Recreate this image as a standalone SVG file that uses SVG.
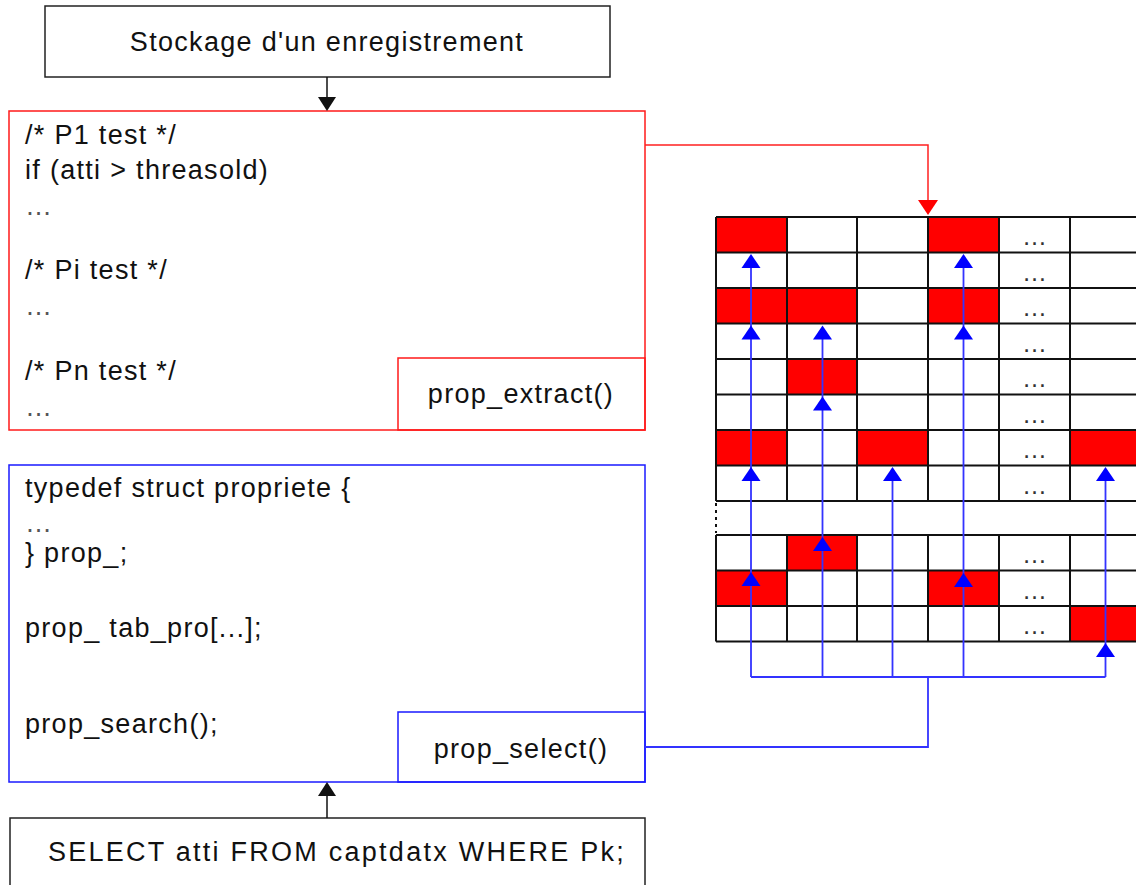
<svg xmlns="http://www.w3.org/2000/svg" xmlns:xlink="http://www.w3.org/1999/xlink" width="1136" height="885" viewBox="0 0 1136 885">
<style>
  .t { font-family: "Liberation Sans", Arial, sans-serif; font-size: 27px; fill: #111; letter-spacing: 1.3px; }
  .dots { font-family: "Liberation Sans", Arial, sans-serif; font-size: 27px; fill: #555; }
  .gdots { font-family: "Liberation Sans", Arial, sans-serif; font-size: 25px; fill: #333; text-anchor: middle; }
  .mid { text-anchor: middle; }
  .bk { fill: #fff; stroke: #222; stroke-width: 1.5; }
  .rd { fill: none; stroke: #ff1a1a; stroke-width: 1.5; }
  .bl { fill: none; stroke: #1a1aff; stroke-width: 1.5; }
  .cell { fill: #ff0000; }
  .grid { fill: none; stroke: #111; stroke-width: 2; }
  .bconn { fill: none; stroke: #3333ff; stroke-width: 1.8; }
  .rconn { fill: none; stroke: #ff2020; stroke-width: 1.5; }
  .kconn { fill: none; stroke: #111; stroke-width: 1.5; }
</style>
<defs>
  <path id="ahUp" d="M0,0 L9.5,14 L-9.5,14 Z" fill="#0000ff"/>
</defs>
<rect width="1136" height="885" fill="#fff"/>

<g id="node-stockage">
  <rect class="bk" x="45" y="6" width="565" height="71"/>
  <text class="t mid" x="327" y="51">Stockage d'un enregistrement</text>
</g>

<g id="node-extract">
  <rect class="rd" x="9" y="111" width="636" height="319" fill="#fff"/>
  <text class="t" x="25" y="144">/* P1 test */</text>
  <text class="t" x="25" y="179">if (atti &gt; threasold)</text>
  <text class="dots" x="25" y="215">…</text>
  <text class="t" x="25" y="279">/* Pi test */</text>
  <text class="dots" x="25" y="315">…</text>
  <text class="t" x="25" y="380">/* Pn test */</text>
  <text class="dots" x="25" y="416">…</text>
</g>

<g id="node-prop-extract">
  <rect class="rd" x="398" y="358" width="247" height="72"/>
  <text class="t mid" x="521" y="403">prop_extract()</text>
</g>

<g id="node-propriete">
  <rect class="bl" x="9" y="465" width="636" height="317"/>
  <text class="t" x="25" y="497">typedef struct propriete {</text>
  <text class="dots" x="25" y="532">…</text>
  <text class="t" x="25" y="562">} prop_;</text>
  <text class="t" x="25" y="637">prop_ tab_pro[...];</text>
  <text class="t" x="25" y="733">prop_search();</text>
</g>

<g id="node-prop-select">
  <rect class="bl" x="398" y="712" width="247" height="70"/>
  <text class="t mid" x="521" y="758">prop_select()</text>
</g>

<g id="node-select">
  <rect class="bk" x="10" y="818" width="635" height="90"/>
  <text class="t" x="48" y="861" textLength="577" lengthAdjust="spacing">SELECT atti FROM captdatx WHERE Pk;</text>
</g>

<g id="node-grid">
  <rect x="716" y="217" width="425" height="284" fill="#fff"/>
  <rect x="716" y="535" width="425" height="106.5" fill="#fff"/>
  <rect class="cell" x="716" y="217" width="71" height="35.5"/>
  <rect class="cell" x="928" y="217" width="71" height="35.5"/>
  <rect class="cell" x="716" y="288" width="71" height="35.5"/>
  <rect class="cell" x="787" y="288" width="70" height="35.5"/>
  <rect class="cell" x="928" y="288" width="71" height="35.5"/>
  <rect class="cell" x="787" y="359" width="70" height="35.5"/>
  <rect class="cell" x="716" y="430" width="71" height="35.5"/>
  <rect class="cell" x="857" y="430" width="71" height="35.5"/>
  <rect class="cell" x="1070" y="430" width="71" height="35.5"/>
  <rect class="cell" x="787" y="535" width="70" height="35.5"/>
  <rect class="cell" x="716" y="570.5" width="71" height="35.5"/>
  <rect class="cell" x="928" y="570.5" width="71" height="35.5"/>
  <rect class="cell" x="1070" y="606" width="71" height="35.5"/>
  <path class="grid" d="M716,217H1141 M716,252.5H1141 M716,288H1141 M716,323.5H1141 M716,359H1141 M716,394.5H1141 M716,430H1141 M716,465.5H1141 M716,501H1141 M716,535H1141 M716,570.5H1141 M716,606H1141 M716,641.5H1141
    M716,217V501 M787,217V501 M857,217V501 M928,217V501 M999,217V501 M1070,217V501
    M716,535V641.5 M787,535V641.5 M857,535V641.5 M928,535V641.5 M999,535V641.5 M1070,535V641.5"/>
  <path d="M716,503V533" fill="none" stroke="#111" stroke-width="2" stroke-dasharray="3,4"/>
  <text class="gdots" x="1034.5" y="245">…</text>
  <text class="gdots" x="1034.5" y="280.5">…</text>
  <text class="gdots" x="1034.5" y="316">…</text>
  <text class="gdots" x="1034.5" y="351.5">…</text>
  <text class="gdots" x="1034.5" y="387">…</text>
  <text class="gdots" x="1034.5" y="422.5">…</text>
  <text class="gdots" x="1034.5" y="458">…</text>
  <text class="gdots" x="1034.5" y="493.5">…</text>
  <text class="gdots" x="1034.5" y="563">…</text>
  <text class="gdots" x="1034.5" y="598.5">…</text>
  <text class="gdots" x="1034.5" y="634">…</text>
</g>

<g id="connectors">
  <path class="kconn" d="M327,77V98"/>
  <path d="M327,111 L318,97 L336,97 Z" fill="#111"/>
  <path class="kconn" d="M327,818V796"/>
  <path d="M327,782 L318,796 L336,796 Z" fill="#111"/>
  <path class="rconn" d="M645,145H928V202"/>
  <path d="M928,215 L918,200 L938,200 Z" fill="#ff0000"/>
  <path class="bconn" d="M645,747H928V677 M751,677H1105.5 M751,677V260 M822.5,677V330 M892.5,677V472 M963.5,677V260 M1105.5,677V472"/>
  <use xlink:href="#ahUp" x="751" y="254"/>
  <use xlink:href="#ahUp" x="751" y="325.5"/>
  <use xlink:href="#ahUp" x="751" y="467"/>
  <use xlink:href="#ahUp" x="751" y="572"/>
  <use xlink:href="#ahUp" x="822.5" y="325.5"/>
  <use xlink:href="#ahUp" x="822.5" y="396.5"/>
  <use xlink:href="#ahUp" x="822.5" y="537"/>
  <use xlink:href="#ahUp" x="892.5" y="467"/>
  <use xlink:href="#ahUp" x="963.5" y="254"/>
  <use xlink:href="#ahUp" x="963.5" y="325.5"/>
  <use xlink:href="#ahUp" x="963.5" y="573"/>
  <use xlink:href="#ahUp" x="1105.5" y="467"/>
  <use xlink:href="#ahUp" x="1105.5" y="643"/>
</g>
</svg>
